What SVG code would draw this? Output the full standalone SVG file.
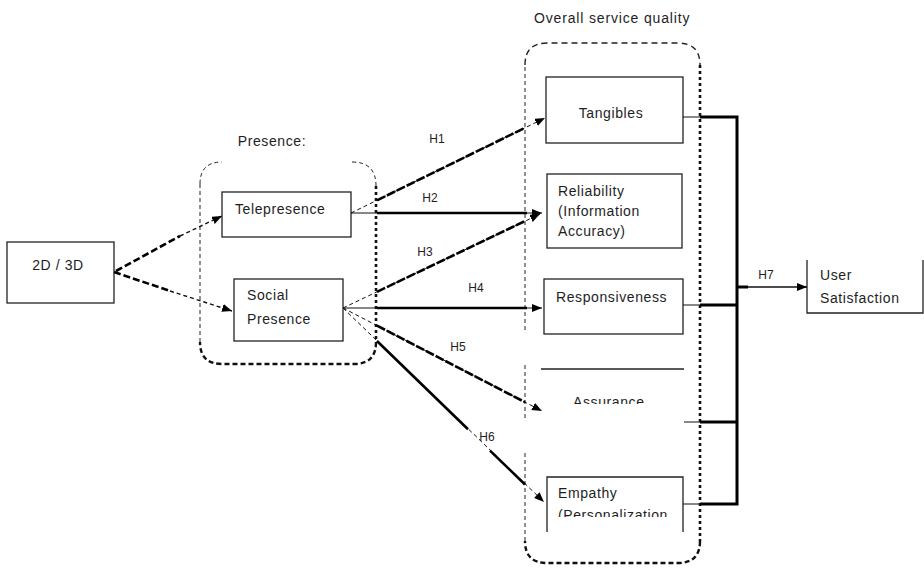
<svg xmlns="http://www.w3.org/2000/svg" width="924" height="568" viewBox="0 0 924 568">
  <defs>
    <style>
      .txt { font-family: "Liberation Sans", Arial, sans-serif; font-size: 14px; letter-spacing: 0.6px; fill: #1e1e1e; }
      .hl { font-family: "Liberation Sans", Arial, sans-serif; font-size: 12px; fill: #1e1e1e; }
      .box { fill: none; stroke: #222; stroke-width: 1.3; }
      .thin { fill: none; stroke: #111; stroke-width: 1; }
      .thin-dash { fill: none; stroke: #111; stroke-width: 1; stroke-dasharray: 4 3; }
      .thick { fill: none; stroke: #000; stroke-width: 2.6; }
      .thick-dash { fill: none; stroke: #000; stroke-width: 2.6; stroke-dasharray: 9 2; }
      .mid-dash { fill: none; stroke: #000; stroke-width: 2; stroke-dasharray: 7 3; }
      .bus { fill: none; stroke: #000; stroke-width: 3; }
      .grp-thin { fill: none; stroke: #222; stroke-width: 1; stroke-dasharray: 4 3; }
      .grp-top { fill: none; stroke: #222; stroke-width: 1.4; stroke-dasharray: 6 4; }
      .grp-dot { fill: none; stroke: #111; stroke-width: 2.6; stroke-dasharray: 3 3; }
      .grp-bottom { fill: none; stroke: #111; stroke-width: 2.4; stroke-dasharray: 5 3; }
    </style>
    <marker id="ah" viewBox="0 0 10 8" refX="10" refY="4" markerWidth="10" markerHeight="8" markerUnits="userSpaceOnUse" orient="auto">
      <path d="M0,0 L10,4 L0,8 z" fill="#000"/>
    </marker>
    <clipPath id="clip-assurance"><rect x="540" y="380" width="150" height="24"/></clipPath>
    <clipPath id="clip-empathy"><rect x="540" y="480" width="150" height="37"/></clipPath>
  </defs>

  <rect width="924" height="568" fill="#fff"/>

  <!-- Container: Presence -->
  <g id="group-presence">
    <text class="txt" x="272" y="146" text-anchor="middle">Presence:</text>
    <path class="grp-thin" d="M200,184 Q200,162 222,162"/>
    <path class="grp-thin" d="M352,162 Q376,162 376,186"/>
    <path class="grp-dot" d="M376,186 V342"/>
    <path class="grp-bottom" d="M376,342 Q376,364 354,364 H222 Q200,364 200,342"/>
    <path class="grp-thin" d="M200,342 V184"/>
  </g>

  <!-- Container: Overall service quality -->
  <g id="group-overall">
    <text class="txt" x="612" y="23" text-anchor="middle" textLength="156" lengthAdjust="spacing">Overall service quality</text>
    <path class="grp-top" d="M525,65 Q525,43 547,43 H678 Q700,43 700,65"/>
    <path class="grp-dot" d="M700,65 V541"/>
    <path class="grp-bottom" d="M700,541 Q700,563 678,563 H547 Q525,563 525,541"/>
    <path class="grp-thin" d="M525,541 V453 M525,418 V365 M525,330 V65"/>
  </g>

  <!-- Nodes -->
  <g id="node-2d3d">
    <rect class="box" x="7" y="242" width="107" height="61"/>
    <text class="txt" x="58" y="270" text-anchor="middle">2D / 3D</text>
  </g>

  <g id="node-telepresence">
    <rect class="box" x="222" y="192" width="129" height="45"/>
    <text class="txt" x="235" y="214">Telepresence</text>
  </g>

  <g id="node-social-presence">
    <rect class="box" x="234" y="279" width="109" height="62"/>
    <text class="txt" x="247" y="300">Social</text>
    <text class="txt" x="247" y="324">Presence</text>
  </g>

  <g id="node-tangibles">
    <rect class="box" x="546" y="77" width="137" height="66"/>
    <text class="txt" x="611" y="118" text-anchor="middle">Tangibles</text>
  </g>

  <g id="node-reliability">
    <rect class="box" x="547" y="174" width="135" height="74"/>
    <text class="txt" x="558" y="196">Reliability</text>
    <text class="txt" x="558" y="216">(Information</text>
    <text class="txt" x="558" y="236">Accuracy)</text>
  </g>

  <g id="node-responsiveness">
    <rect class="box" x="544" y="279" width="139" height="55"/>
    <text class="txt" x="556" y="302">Responsiveness</text>
  </g>

  <g id="node-assurance">
    <path class="box" d="M541,369 H684"/>
    <text class="txt" x="573" y="407" clip-path="url(#clip-assurance)">Assurance</text>
  </g>

  <g id="node-empathy">
    <path class="box" d="M547,532 V477 H683 V532"/>
    <text class="txt" x="558" y="498">Empathy</text>
    <text class="txt" x="558" y="520" clip-path="url(#clip-empathy)">(Personalization</text>
  </g>

  <g id="node-user-satisfaction">
    <path class="box" d="M807,260 V313 H923 V260"/>
    <text class="txt" x="820" y="280">User</text>
    <text class="txt" x="820" y="303">Satisfaction</text>
  </g>

  <!-- Connectors -->
  <g id="connectors">
    <!-- 2D/3D to presence dimensions -->
    <path class="mid-dash" d="M116,271 L180,236" style="stroke-width:2.6"/>
    <path class="thin-dash" d="M180,236 L222,216" marker-end="url(#ah)" style="stroke-width:1.4"/>
    <path class="mid-dash" d="M114,272 L170,291" style="stroke-width:2.6"/>
    <path class="thin-dash" d="M170,291 L232,311" marker-end="url(#ah)" style="stroke-width:1.4"/>

    <!-- H1 -->
    <path class="thin-dash" d="M351,213 L545,118" marker-end="url(#ah)"/>
    <path class="thick-dash" d="M377,200.3 L525,127.8"/>
    <!-- H2 -->
    <path class="thin" d="M351,213 L542,213" marker-end="url(#ah)"/>
    <path class="thick" d="M377,213 H527"/>
    <!-- H3 -->
    <path class="thin-dash" d="M343,308 L540,214" marker-end="url(#ah)"/>
    <path class="thick-dash" d="M377,291.8 L525,221.1"/>
    <!-- H4 -->
    <path class="thin" d="M343,308 L542,308" marker-end="url(#ah)"/>
    <path class="thick" d="M377,308 H527"/>
    <!-- H5 -->
    <path class="thin-dash" d="M343,308 L542,411" marker-end="url(#ah)"/>
    <path class="thick-dash" d="M377,325.6 L525,402.2"/>
    <!-- H6 -->
    <path class="thin-dash" d="M343,308 L544,502" marker-end="url(#ah)"/>
    <path class="thick" d="M377,341 L468,429.3 M490,450.6 L525,484.5"/>

    <!-- Service quality dimensions to the bus -->
    <path class="thin" d="M683,117 H700 M683,305 H700 M684,422 H700 M683,504 H700"/>
    <path class="bus" d="M700,117 H737 V504 H700 M700,305 H737 M700,422 H737"/>

    <!-- H7 -->
    <path class="bus" d="M737,287 H748"/>
    <path class="thin" d="M748,287 H807" marker-end="url(#ah)" style="stroke-width:1.3"/>
  </g>

  <!-- Hypothesis labels -->
  <g id="labels">
    <text class="hl" x="437" y="143" text-anchor="middle">H1</text>
    <text class="hl" x="430" y="202" text-anchor="middle">H2</text>
    <text class="hl" x="425" y="256" text-anchor="middle">H3</text>
    <text class="hl" x="476" y="292" text-anchor="middle">H4</text>
    <text class="hl" x="458" y="351" text-anchor="middle">H5</text>
    <text class="hl" x="487" y="441" text-anchor="middle">H6</text>
    <text class="hl" x="766" y="279" text-anchor="middle">H7</text>
  </g>
</svg>
